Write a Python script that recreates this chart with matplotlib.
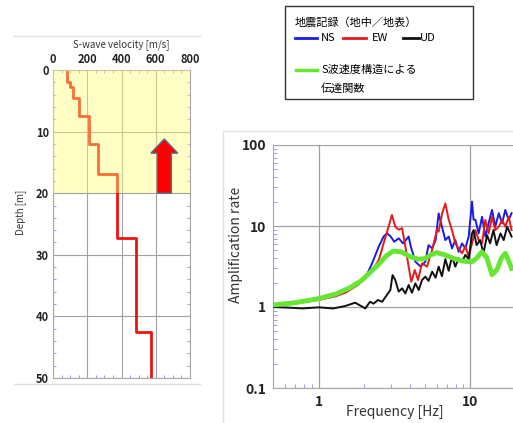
import matplotlib
matplotlib.use('Agg')
import matplotlib.pyplot as plt
from matplotlib.patches import FancyArrow, Rectangle
from matplotlib.lines import Line2D
from matplotlib.ticker import MultipleLocator, LogLocator, NullFormatter

plt.rcParams['font.family'] = ['Noto Sans CJK JP', 'DejaVu Sans']

# S波速度構造 (層の上端深さ [m], Vs [m/s])
layer_top = [0, 1.9, 2.8, 4.5, 7.5, 12.0, 16.9, 27.2, 42.6]
layer_vs = [84, 98, 117, 152, 211, 265, 371, 484, 570]
max_depth = 50

# 増幅率 (地中／地表)
ns_f = [0.5, 0.7, 1.0, 1.3, 1.6, 1.9, 2.1, 2.25, 2.49, 2.68, 2.82, 2.97, 3.15, 3.37, 3.6, 3.92, 4.05,
        4.34, 4.7, 5.05, 5.3, 5.6, 5.9, 6.18, 6.5, 6.84, 7.2, 7.57, 7.96, 8.37, 8.81, 9.27, 9.75,
        10.26, 10.5, 10.8, 11.35, 11.94, 12.56, 13.2, 13.9, 14.6, 15.4, 16.2, 17.0, 17.9, 18.7]
ns_a = [1.04, 1.12, 1.25, 1.42, 1.7, 2.1, 2.6, 3.46, 5.56, 7.4, 8.1, 7.5, 6.4, 7.05, 6.1, 7.4, 5.56,
        3.63, 3.15, 3.63, 5.8, 5.3, 6.7, 14.3, 9.8, 6.7, 7.4, 5.3, 6.7, 4.8, 6.1, 5.3, 7.4,
        20, 12, 11.9, 8.1, 13, 7.4, 10.8, 15.8, 9.8, 14.4, 10.8, 15.8, 11.9, 14.4]

ew_f = [0.5, 0.7, 1.0, 1.3, 1.5, 1.8, 2.0, 2.3, 2.49, 2.68, 2.89, 3.04, 3.2, 3.37, 3.55, 3.73, 3.92,
        4.08, 4.3, 4.52, 4.8, 5.18, 5.6, 6.03, 6.18, 6.5, 6.84, 7.2, 7.57, 7.96, 8.37, 8.81, 9.27,
        9.75, 10.26, 10.8, 11.35, 11.94, 12.56, 13.2, 13.9, 14.6, 15.4, 16.2, 17.0, 17.9, 18.7]
ew_a = [1.04, 1.11, 1.22, 1.36, 1.5, 1.85, 2.2, 3.0, 3.8, 6.1, 9.8, 13.7, 9.8, 9.0, 9.4, 5.56, 3.15,
        2.05, 2.86, 2.15, 3.46, 3.15, 5.06, 9.0, 8.5, 14, 19, 12, 8.9, 6.1, 5.3, 4.6, 5.6,
        4.2, 6.1, 8.9, 6.7, 6.1, 11.9, 8.1, 13, 8.9, 9.8, 11.9, 9.8, 13, 8.9]

ud_f = [0.5, 0.65, 0.78, 1.0, 1.25, 1.5, 1.74, 1.85, 2.03, 2.18, 2.3, 2.46, 2.62, 2.82, 2.97, 3.07,
        3.2, 3.37, 3.55, 3.73, 3.92, 4.12, 4.34, 4.57, 4.8, 5.05, 5.3, 5.6, 5.9, 6.18, 6.5, 6.84, 7.2,
        7.57, 7.96, 8.37, 8.81, 9.27, 9.75, 10.26, 10.5, 11.0, 11.6, 12.2, 12.9, 13.5, 14.2, 14.9,
        15.8, 16.6, 17.5, 18.7]
ud_a = [1.0, 0.98, 0.96, 0.99, 0.96, 1.03, 1.13, 1.06, 0.96, 1.16, 1.1, 1.22, 1.16, 1.41, 1.62, 2.48,
        2.15, 1.55, 1.70, 1.47, 1.87, 1.5, 1.96, 1.62, 2.15, 2.37, 2.1, 2.73, 2.3, 3.15, 2.4, 3.9, 2.8,
        4.2, 3.15, 4.0, 3.6, 4.4, 3.9, 8.1, 8.9, 5.8, 6.7, 4.6, 7.7, 6.1, 8.9, 5.8,
        8.1, 6.7, 9.8, 7.4]

# S波速度構造による伝達関数
tf_f = [0.5, 0.7, 1.0, 1.3, 1.6, 1.9, 2.2, 2.5, 2.8, 3.1, 3.5, 4.0, 4.5, 5.0, 5.5, 6.0, 6.8, 7.7,
        8.8, 10.2, 11.0, 11.9, 12.8, 13.9, 15.0, 16.0, 17.0, 17.8, 18.7]
tf_a = [1.06, 1.13, 1.27, 1.45, 1.72, 2.1, 2.7, 3.4, 4.3, 4.9, 4.8, 4.2, 3.9, 3.95, 4.4, 4.7, 4.4, 4.0,
        3.7, 3.6, 4.0, 4.8, 4.1, 2.5, 2.9, 4.0, 4.6, 3.8, 3.0]

W, H = 513, 423
fig = plt.figure(figsize=(W / 100, H / 100), dpi=100)


def fx(px):
    return px / W


def fy(py):
    return 1 - py / H


tick_blue = '#8c8cf0'
spine_gray = '#a8a8a8'

# ---- 左: 速度構造 ----
ax1 = fig.add_axes([fx(53), fy(378), fx(190) - fx(53), fy(70) - fy(378)])
vx, vy = [], []
layer_bot = layer_top[1:] + [max_depth]
for v, t, b in zip(layer_vs, layer_top, layer_bot):
    vx += [v, v]
    vy += [t, b]
ax1.plot(vx, vy, color='#f01010', lw=2, zorder=2)
ax1.axhspan(0, 20, color='#ffff70', alpha=0.4, lw=0, zorder=3)
ax1.add_patch(FancyArrow(650, 20, 0, -8.8, width=82, head_width=157, head_length=2.3,
                         length_includes_head=True, facecolor='#ff0000', edgecolor='#50708c',
                         lw=1, zorder=4))
ax1.set_xlim(0, 800)
ax1.set_ylim(max_depth, 0)
ax1.xaxis.tick_top()
ax1.set_xticks([0, 200, 400, 600, 800])
ax1.set_yticks([0, 10, 20, 30, 40, 50])
ax1.xaxis.set_minor_locator(MultipleLocator(50))
ax1.yaxis.set_minor_locator(MultipleLocator(2))
ax1.tick_params(which='major', length=0, labelsize=8, colors='#222222', pad=3)
ax1.tick_params(which='minor', length=2, color=tick_blue, direction='in',
                top=True, bottom=True, left=True, right=True)
ax1.grid(True, which='major', color='#a0a0a0', lw=0.8, zorder=1)
for s in ax1.spines.values():
    s.set_color(spine_gray)
for lab in ax1.get_xticklabels() + ax1.get_yticklabels():
    lab.set_fontweight('bold')
fig.text(fx(121), fy(45), 'S-wave velocity [m/s]', ha='center', va='center', fontsize=7, color='#333333')
fig.text(fx(21), fy(212), 'Depth [m]', ha='center', va='center', rotation=90, fontsize=7, color='#333333')
fig.add_artist(Line2D([fx(14), fx(200)], [fy(36), fy(36)], color='#dddddd', lw=1))
fig.add_artist(Line2D([fx(14), fx(200)], [fy(384), fy(384)], color='#dddddd', lw=1))

# ---- 右: 増幅率 ----
fig.add_artist(Rectangle((fx(223), fy(440)), fx(560) - fx(223), fy(131) - fy(440),
                         fill=False, edgecolor='#e0e0e0', lw=1))
ax2 = fig.add_axes([fx(273), fy(388), fx(516) - fx(273), fy(145) - fy(388)])
ax2.set_xscale('log')
ax2.set_yscale('log')
ax2.plot(ns_f, ns_a, color='#1a1ae6', lw=1.4, zorder=3)
ax2.plot(ew_f, ew_a, color='#e61a1a', lw=1.4, zorder=3)
ax2.plot(ud_f, ud_a, color='#111111', lw=1.4, zorder=4)
ax2.plot(tf_f, tf_a, color='#66e633', lw=3.5, zorder=5)
ax2.set_xlim(0.5, 20)
ax2.set_ylim(0.1, 100)
ax2.set_xticks([1, 10])
ax2.set_xticklabels(['1', '10'])
ax2.set_yticks([0.1, 1, 10, 100])
ax2.set_yticklabels(['0.1', '1', '10', '100'])
ax2.xaxis.set_minor_locator(LogLocator(base=10, subs=range(2, 10)))
ax2.yaxis.set_minor_locator(LogLocator(base=10, subs=range(2, 10)))
ax2.xaxis.set_minor_formatter(NullFormatter())
ax2.yaxis.set_minor_formatter(NullFormatter())
ax2.tick_params(which='major', length=0, labelsize=10, colors='#222222', pad=5)
ax2.tick_params(which='minor', length=3, color=tick_blue, direction='in')
ax2.grid(True, which='major', color='#a0a0a0', lw=0.9, zorder=1)
for s in ax2.spines.values():
    s.set_color(spine_gray)
for lab in ax2.get_xticklabels() + ax2.get_yticklabels():
    lab.set_fontweight('bold')
fig.text(fx(395), fy(412), 'Frequency [Hz]', ha='center', va='center', fontsize=10, color='#333333')
fig.text(fx(236), fy(245), 'Amplification rate', ha='center', va='center', rotation=90,
         fontsize=10, color='#333333')

# ---- 凡例 ----
fig.add_artist(Rectangle((fx(285), fy(99)), fx(473) - fx(285), fy(6) - fy(99),
                         fill=False, edgecolor='#333333', lw=1))
fig.text(fx(295), fy(22), '地震記録（地中／地表）', ha='left', va='center', fontsize=8)
legend_items = [('#1a1ae6', 295, 317, 'NS', 321), ('#e61a1a', 343, 366, 'EW', 372),
                ('#111111', 403, 419, 'UD', 420)]
for c, x0, x1, name, tx in legend_items:
    fig.add_artist(Line2D([fx(x0), fx(x1)], [fy(38), fy(38)], color=c, lw=2))
    fig.text(fx(tx), fy(38), name, ha='left', va='center', fontsize=8)
fig.add_artist(Line2D([fx(296), fx(317)], [fy(70), fy(70)], color='#66e633', lw=2.5))
fig.text(fx(321), fy(70), 'S波速度構造による', ha='left', va='center', fontsize=8)
fig.text(fx(321), fy(88), '伝達関数', ha='left', va='center', fontsize=8)

fig.savefig('out.png', dpi=100)
